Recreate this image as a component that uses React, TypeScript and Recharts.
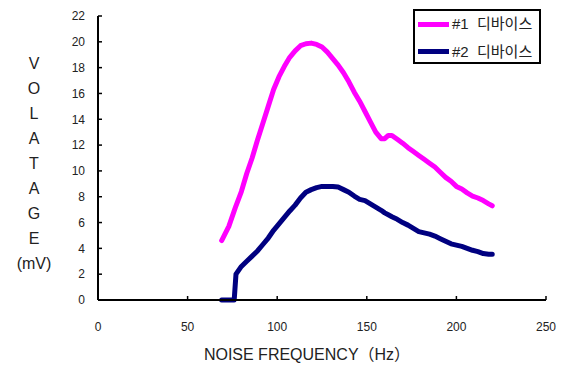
import React from 'react';
import { LineChart, Line, XAxis, YAxis, Legend, Label } from 'recharts';

// Measured noise frequency (Hz) and output voltage (mV) of two devices
const frequencies = [
  69, 73, 76, 77, 80, 83, 86, 89, 92, 95, 98, 101, 104, 107, 110, 113, 116, 119, 122, 125,
  128, 131, 134, 137, 140, 143, 146, 149, 152, 155, 158, 160, 162, 164, 167, 170, 173, 176,
  179, 182, 185, 188, 191, 194, 197, 200, 203, 206, 209, 212, 215, 218, 220,
];
const device1Voltage = [
  4.6, 5.7, 6.9, 7.3, 8.4, 9.8, 11.0, 12.4, 13.7, 15.0, 16.3, 17.3, 18.1, 18.8, 19.3, 19.7,
  19.85, 19.9, 19.8, 19.6, 19.2, 18.7, 18.2, 17.6, 16.9, 16.1, 15.4, 14.6, 13.8, 13.0, 12.5,
  12.5, 12.75, 12.75, 12.45, 12.15, 11.8, 11.5, 11.2, 10.9, 10.6, 10.3, 9.9, 9.5, 9.2, 8.8,
  8.6, 8.3, 8.05, 7.9, 7.7, 7.45, 7.3,
];
const device2Voltage = [
  0, 0, 0, 2.0, 2.6, 3.0, 3.4, 3.8, 4.3, 4.8, 5.4, 5.9, 6.4, 6.9, 7.35, 7.9, 8.35, 8.55, 8.7,
  8.8, 8.8, 8.8, 8.75, 8.55, 8.35, 8.05, 7.8, 7.7, 7.45, 7.2, 6.95, 6.75, 6.6, 6.45, 6.25,
  6.0, 5.8, 5.55, 5.3, 5.2, 5.1, 4.95, 4.75, 4.55, 4.35, 4.25, 4.15, 4.0, 3.85, 3.75, 3.6,
  3.55, 3.55,
];

const xTicks = [0, 50, 100, 150, 200, 250];
const yTicks = [0, 2, 4, 6, 8, 10, 12, 14, 16, 18, 20, 22];
const seriesKeys = ['d1', 'd2'];
const seriesNames = ['#1  디바이스', '#2  디바이스'];
const seriesColors = ['#FF00FF', '#000080'];
const xTitle = 'NOISE FREQUENCY（Hz）';
const yTitleLines = ['V', 'O', 'L', 'A', 'T', 'A', 'G', 'E', '(mV)'];

const data = frequencies.map((f, i) => ({
  f,
  d1: device1Voltage[i],
  d2: device2Voltage[i],
}));

const FONT = '"Liberation Sans", Arial, "Noto Sans CJK KR", sans-serif';
const TEXT = '#222';

// Ticks point into the plot area; labels sit outside
const XTick = (props: any) => {
  const { x, y, payload } = props;
  return (
    <g>
      <line x1={x} y1={y} x2={x} y2={y - 4} stroke="#000" strokeWidth={1.5} />
      <text x={x} y={y + 30.5} textAnchor="middle" fontSize={12} fontFamily={FONT} fill={TEXT}>
        {payload.value}
      </text>
    </g>
  );
};

const YTick = (props: any) => {
  const { x, y, payload } = props;
  return (
    <g>
      <line x1={x} y1={y} x2={x + 4} y2={y} stroke="#000" strokeWidth={1.5} />
      <text x={x - 13} y={y + 4.3} textAnchor="end" fontSize={12} fontFamily={FONT} fill={TEXT}>
        {payload.value}
      </text>
    </g>
  );
};

const XTitle = (props: any) => {
  const vb = props.viewBox || { x: 98, y: 300, width: 448 };
  return (
    <text
      x={vb.x + vb.width / 2 - 15}
      y={vb.y + 60}
      textAnchor="middle"
      fontSize={16}
      fontFamily={FONT}
      fill={TEXT}
    >
      {xTitle}
    </text>
  );
};

const YTitle = (props: any) => {
  const vb = props.viewBox || { x: 0, y: 16 };
  return (
    <text textAnchor="middle" fontSize={16} fontFamily={FONT} fill={TEXT}>
      {yTitleLines.map((s, i) => (
        <tspan key={i} x={vb.x + 34} y={vb.y + 53 + i * 25}>
          {s}
        </tspan>
      ))}
    </text>
  );
};

const LegendBox = () => (
  <div
    style={{
      position: 'relative',
      width: 128,
      height: 55,
      boxSizing: 'border-box',
      border: '2px solid #000',
      background: '#fff',
      fontFamily: FONT,
      color: TEXT,
    }}
  >
    {seriesNames.map((name, i) => (
      <div key={name} style={{ position: 'absolute', left: 3, top: 13 + i * 27.5, height: 0 }}>
        <div
          style={{
            position: 'absolute',
            left: 0,
            top: -2.5,
            width: 31,
            height: 5,
            background: seriesColors[i],
          }}
        />
        <div
          style={{
            position: 'absolute',
            left: 34,
            top: -10,
            fontSize: 15,
            lineHeight: '20px',
            whiteSpace: 'pre',
          }}
        >
          {name}
        </div>
      </div>
    ))}
  </div>
);

export default function App() {
  return (
    <div style={{ position: 'absolute', left: 0, top: 0, background: '#fff' }}>
      <LineChart
        width={564}
        height={367}
        data={data}
        margin={{ top: 16, right: 18, bottom: 37, left: 0 }}
      >
        <XAxis
          dataKey="f"
          type="number"
          domain={[0, 250]}
          ticks={xTicks}
          height={30}
          tickSize={0}
          tickMargin={0}
          tickLine={false}
          axisLine={{ stroke: '#000', strokeWidth: 2 }}
          tick={<XTick />}
          interval={0}
        >
          <Label content={<XTitle />} />
        </XAxis>
        <YAxis
          type="number"
          domain={[0, 22]}
          ticks={yTicks}
          width={98}
          tickSize={0}
          tickMargin={0}
          tickLine={false}
          axisLine={{ stroke: '#000', strokeWidth: 2 }}
          tick={<YTick />}
          interval={0}
        >
          <Label content={<YTitle />} />
        </YAxis>
        <Legend
          layout="vertical"
          align="center"
          verticalAlign="middle"
          content={<LegendBox />}
          wrapperStyle={{ left: 413, top: 9, width: 128, height: 55 }}
        />
        {seriesKeys.map((k, i) => (
          <Line
            key={k}
            dataKey={k}
            name={seriesNames[i]}
            type="linear"
            stroke={seriesColors[i]}
            strokeWidth={5}
            strokeLinejoin="round"
            strokeLinecap="round"
            dot={false}
            activeDot={false}
            isAnimationActive={false}
          />
        ))}
      </LineChart>
    </div>
  );
}
